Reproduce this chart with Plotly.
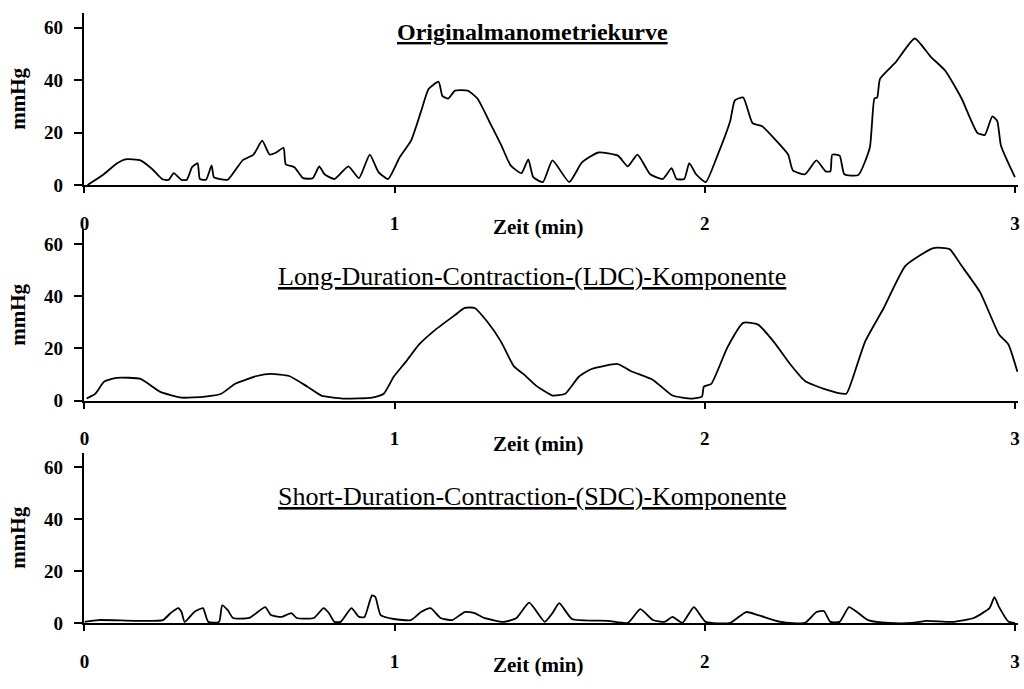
import plotly.graph_objects as go

# --- Originalmanometriekurve: time (min) and pressure (mmHg) ---
t_orig = [0.01, 0.059, 0.104, 0.132, 0.181, 0.219, 0.25, 0.271, 0.288, 0.313, 0.33, 0.347,
          0.365, 0.372, 0.392, 0.41, 0.417, 0.434, 0.462, 0.51, 0.545, 0.573, 0.597, 0.618,
          0.642, 0.649, 0.677, 0.705, 0.736, 0.757, 0.774, 0.806, 0.851, 0.885, 0.92, 0.948,
          0.979, 1.016, 1.053, 1.085, 1.11, 1.142, 1.154, 1.173, 1.195, 1.236, 1.267, 1.311,
          1.343, 1.374, 1.409, 1.431, 1.447, 1.478, 1.509, 1.563, 1.604, 1.657, 1.72, 1.752,
          1.783, 1.824, 1.865, 1.893, 1.909, 1.934, 1.95, 1.972, 2.003, 2.042, 2.082, 2.097,
          2.124, 2.154, 2.184, 2.245, 2.269, 2.284, 2.323, 2.36, 2.39, 2.405, 2.411, 2.435,
          2.45, 2.495, 2.532, 2.547, 2.556, 2.565, 2.616, 2.677, 2.728, 2.776, 2.828, 2.879,
          2.903, 2.927, 2.943, 2.955, 3.0]
p_orig = [0, 3.8, 8.2, 9.8, 9.4, 6.0, 2.3, 1.9, 4.5, 1.9, 2.0, 6.8,
          8.3, 2.3, 2.0, 7.5, 3.0, 2.3, 2.0, 9.4, 11.6, 16.9, 11.6, 12.4,
          14.2, 7.9, 6.8, 2.6, 2.6, 7.1, 4.1, 2.3, 7.1, 2.6, 11.6, 4.9,
          2.3, 10.5, 16.9, 28.0, 36.7, 39.4, 34.0, 33.0, 36.0, 36.0, 33.0, 22.9,
          15.4, 7.5, 4.5, 9.8, 3.0, 1.1, 9.4, 1.1, 8.6, 12.4, 11.2, 7.1,
          11.6, 4.1, 2.3, 6.4, 2.3, 2.3, 8.3, 4.1, 1.1, 11.6, 24.4, 32.3,
          33.4, 23.6, 22.5, 15.0, 11.6, 5.6, 4.1, 9.4, 5.2, 5.2, 11.6, 11.2,
          4.1, 3.8, 14.2, 33.0, 33.4, 40.5, 46.9, 55.9, 49.0, 43.5, 33.0, 19.9,
          19.1, 26.2, 24.4, 15.0, 3.0]

# --- Long-Duration-Contraction-(LDC)-Komponente ---
t_ldc = [0.007, 0.035, 0.063, 0.104, 0.181, 0.243, 0.313, 0.389, 0.441, 0.486, 0.556, 0.601,
         0.66, 0.719, 0.764, 0.833, 0.927, 0.965, 0.997, 1.038, 1.079, 1.132, 1.195, 1.226,
         1.258, 1.299, 1.343, 1.384, 1.415, 1.456, 1.509, 1.55, 1.594, 1.635, 1.72, 1.761,
         1.833, 1.896, 1.959, 1.991, 1.997, 2.021, 2.073, 2.124, 2.172, 2.224, 2.275, 2.323,
         2.384, 2.456, 2.474, 2.517, 2.577, 2.647, 2.737, 2.789, 2.828, 2.888, 2.949, 2.979,
         3.008]
p_ldc = [0.75, 2.6, 7.2, 8.7, 8.3, 3.4, 1.1, 1.5, 2.6, 6.4, 9.4, 10.2,
         9.4, 5.3, 1.9, 0.75, 1.1, 2.6, 9.1, 15.1, 21.5, 27.2, 32.8, 35.5,
         35.5, 30.2, 22.6, 13.2, 10.2, 5.7, 1.9, 2.6, 9.1, 12.1, 14.0, 11.3,
         7.9, 1.9, 0.75, 1.5, 5.3, 6.4, 20.4, 29.8, 29.1, 22.3, 14.0, 7.5,
         4.5, 2.6, 7.5, 22.6, 35.5, 51.7, 58.5, 58.1, 51.7, 41.5, 25.3, 21.5,
         11.0]

# --- Short-Duration-Contraction-(SDC)-Komponente ---
t_sdc = [0.0, 0.045, 0.163, 0.253, 0.278, 0.302, 0.313, 0.323, 0.354, 0.382, 0.399, 0.434,
         0.444, 0.462, 0.479, 0.531, 0.583, 0.601, 0.635, 0.667, 0.684, 0.74, 0.771, 0.788,
         0.806, 0.826, 0.861, 0.885, 0.903, 0.927, 0.938, 0.955, 0.997, 1.053, 1.085, 1.116,
         1.148, 1.186, 1.226, 1.258, 1.289, 1.352, 1.393, 1.434, 1.484, 1.509, 1.531, 1.572,
         1.688, 1.752, 1.792, 1.833, 1.871, 1.896, 1.928, 1.965, 2.003, 2.082, 2.133, 2.172,
         2.245, 2.323, 2.36, 2.384, 2.405, 2.435, 2.465, 2.495, 2.526, 2.595, 2.668, 2.716,
         2.798, 2.867, 2.918, 2.934, 2.949, 2.98, 3.0]
p_sdc = [0.4, 1.1, 0.8, 1.1, 3.8, 5.7, 4.2, 0.4, 4.2, 5.7, 0.4, 0.4,
         6.8, 4.9, 1.9, 1.9, 6.1, 3.0, 2.3, 3.8, 1.9, 1.9, 5.7, 3.8,
         0.4, 0.4, 5.7, 2.3, 2.3, 10.6, 10.0, 3.0, 1.5, 1.1, 4.2, 5.7,
         1.9, 1.1, 4.2, 3.8, 1.9, 0.4, 1.9, 7.8, 0.4, 3.8, 7.6, 1.5,
         0.8, 0.0, 5.3, 1.1, 0.4, 2.3, 0.0, 6.1, 0.4, 0.0, 4.2, 3.0,
         0.4, 0.0, 4.2, 4.6, 0.4, 0.4, 6.1, 3.8, 1.1, 0.0, 0.0, 0.8,
         0.4, 1.9, 5.7, 9.9, 6.1, 0.4, 0.0]

panel_titles = ["<b><u>Originalmanometriekurve</u></b>",
                "<u>Long-Duration-Contraction-(LDC)-Komponente</u>",
                "<u>Short-Duration-Contraction-(SDC)-Komponente</u>"]
title_sizes = [24, 26, 26]
x_ticks = [0, 1, 2, 3]
y_ticks = [0, 20, 40, 60]
x_label = "Zeit (min)"
y_label = "mmHg"

FONT = "Liberation Serif"
W, H = 1024, 689

def py(px):
    return 1 - px / H

# vertical pixel extents of each panel (top, bottom) and text positions
panels = [
    dict(t=t_orig, p=p_orig, top=13, bot=188, title_y=33, zeit_y=231),
    dict(t=t_ldc, p=p_ldc, top=233, bot=407, title_y=281, zeit_y=451),
    dict(t=t_sdc, p=p_sdc, top=460, bot=633, title_y=505, zeit_y=676),
]

fig = go.Figure()
annotations = []
x_dom = [80 / W, 1020 / W]

for i, pn in enumerate(panels, start=1):
    sfx = "" if i == 1 else str(i)
    fig.add_trace(go.Scatter(
        x=pn["t"], y=pn["p"], mode="lines",
        line=dict(color="black", width=1.8, shape="spline", smoothing=0.5),
        xaxis="x" + sfx, yaxis="y" + sfx, showlegend=False, hoverinfo="skip"))

    fig.layout["xaxis" + sfx] = dict(
        domain=x_dom, range=[0, 3.01], anchor="y" + sfx,
        tickvals=x_ticks, ticktext=[str(v) for v in x_ticks],
        ticks="outside", ticklen=6, tickwidth=1.5, tickcolor="black",
        showline=True, linecolor="black", linewidth=2,
        showgrid=False, zeroline=False, ticklabelstandoff=14,
        tickfont=dict(family=FONT, size=19, color="black", weight="bold"),
    )
    fig.layout["yaxis" + sfx] = dict(
        domain=[py(pn["bot"]), py(pn["top"])], range=[0, 65.7], anchor="x" + sfx,
        tickvals=y_ticks, ticktext=[str(v) for v in y_ticks],
        ticks="outside", ticklen=9, tickwidth=1.5, tickcolor="black",
        showline=True, linecolor="black", linewidth=1.5,
        showgrid=False, zeroline=False, ticklabelstandoff=7,
        tickfont=dict(family=FONT, size=19, color="black", weight="bold"),
        title=dict(text="<b>" + y_label + "</b>", standoff=13,
                   font=dict(family=FONT, size=21, color="black")),
    )

    annotations.append(dict(
        text=panel_titles[i - 1], xref="paper", yref="paper",
        x=531 / W, y=py(pn["title_y"]), xanchor="center", yanchor="middle",
        showarrow=False, font=dict(family=FONT, size=title_sizes[i - 1], color="black")))
    annotations.append(dict(
        text="<b>" + x_label + "</b>", xref="paper", yref="paper",
        x=537 / W, y=py(pn["zeit_y"]), xanchor="center", yanchor="middle",
        showarrow=False, font=dict(family=FONT, size=21, color="black")))

fig.update_layout(
    width=W, height=H,
    margin=dict(l=0, r=0, t=0, b=0),
    paper_bgcolor="white", plot_bgcolor="white",
    annotations=annotations,
)

fig.write_html("out.html")
